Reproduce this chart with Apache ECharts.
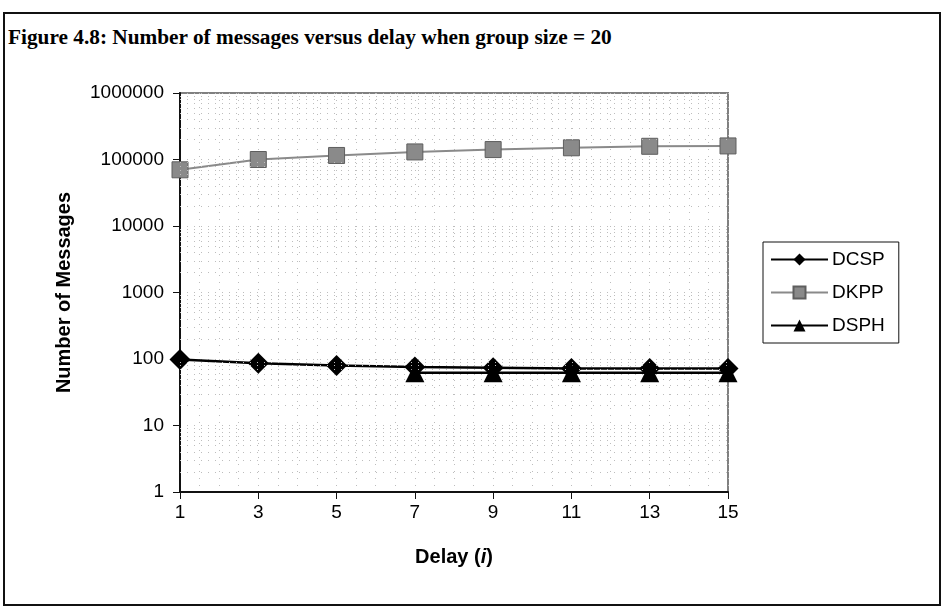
<!DOCTYPE html>
<html>
<head>
<meta charset="utf-8">
<script src="https://cdn.jsdelivr.net/npm/echarts@6/dist/echarts.min.js"></script>
<style>
  html, body { margin: 0; padding: 0; background: #fff; }
  #wrap { position: relative; width: 944px; height: 615px; }
  #frame { position: absolute; left: 3px; top: 12px; width: 934px; height: 590px; border: 2px solid #111; }
  #title { position: absolute; left: 8px; top: 25px; font-family: "Liberation Serif", serif; font-weight: bold; font-size: 21.3px; color: #000; white-space: nowrap; }
  #chart { position: absolute; left: 0; top: 0; width: 944px; height: 615px; }
</style>
</head>
<body>
<div id="wrap">
  <div id="frame"></div>
  <div id="title">Figure 4.8: Number of messages versus delay when group size = 20</div>
  <div id="chart"></div>
</div>
<script>
// Delay values (i) on the x axis
const delays = [1, 3, 5, 7, 9, 11, 13, 15];
// Number of messages per protocol
const dcsp = [98, 86, 80, 76, 74, 72, 72, 72];
const dkpp = [70000, 100000, 115000, 130000, 141000, 150000, 158000, 160000];
const dsph = [null, null, null, 62, 62, 62, 62, 62];
// Decade labels of the log axis
const yTickLabels = ['1', '10', '100', '1000', '10000', '100000', '1000000'];

const font = '"Liberation Sans", Arial, sans-serif';

// dotted minor grid lines at 2..9 within each decade
const minorLevels = [];
for (let d = 0; d < 6; d++) {
  for (let m = 2; m <= 9; m++) minorLevels.push({ yAxis: m * Math.pow(10, d) });
}

const pairs = arr => delays.map((x, i) => [x, arr[i]]);

const gridDot = { color: '#bdbdbd', type: [1, 6], width: 1 };

const chart = echarts.init(document.getElementById('chart'), null, { renderer: 'canvas' });
chart.setOption({
  animation: false,
  textStyle: { fontFamily: font },
  grid: {
    left: 180, right: 216, top: 93, bottom: 123,
    show: true, borderColor: '#808080', borderWidth: 2, backgroundColor: 'transparent'
  },
  legend: {
    orient: 'vertical',
    left: 763, top: 242,
    padding: [8, 14, 8, 7],
    borderColor: '#111', borderWidth: 1,
    itemWidth: 57, itemHeight: 15, itemGap: 14,
    textStyle: { fontFamily: font, fontSize: 19, color: '#000', padding: [0, 0, 0, -1] },
    data: ['DCSP', 'DKPP', 'DSPH']
  },
  xAxis: {
    type: 'value',
    min: 1, max: 15, interval: 2,
    name: '{b|Delay (}{i|i}{b|)}',
    nameLocation: 'middle',
    nameGap: 55,
    nameTextStyle: {
      rich: {
        b: { fontFamily: font, fontWeight: 'bold', fontSize: 20, color: '#000' },
        i: { fontFamily: font, fontWeight: 'bold', fontStyle: 'italic', fontSize: 20, color: '#000' }
      }
    },
    axisLine: { show: true, onZero: false, lineStyle: { color: '#111', width: 2 } },
    axisTick: { show: true, length: 7, lineStyle: { color: '#111', width: 1 } },
    axisLabel: { fontFamily: font, fontSize: 19, color: '#000', margin: 11 },
    splitLine: { show: true, lineStyle: gridDot },
    minorTick: { show: false, splitNumber: 4 },
    minorSplitLine: { show: true, lineStyle: gridDot }
  },
  yAxis: {
    type: 'log',
    logBase: 10,
    min: 1, max: 1000000,
    name: 'Number of Messages',
    nameLocation: 'middle',
    nameGap: 106,
    nameTextStyle: { fontFamily: font, fontWeight: 'bold', fontSize: 20, color: '#000' },
    axisLine: { show: true, lineStyle: { color: '#111', width: 2 } },
    axisTick: { show: true, length: 7, lineStyle: { color: '#111', width: 1 } },
    axisLabel: {
      fontFamily: font, fontSize: 19, color: '#000', margin: 16,
      formatter: v => yTickLabels[Math.round(Math.log10(v))]
    },
    splitLine: { show: true, lineStyle: gridDot }
  },
  series: [
    {
      name: 'DCSP', type: 'line',
      data: pairs(dcsp),
      symbol: 'diamond', symbolSize: 21,
      itemStyle: { color: '#000' },
      lineStyle: { color: '#000', width: 2.5 },
      z: 4
    },
    {
      name: 'DKPP', type: 'line',
      data: pairs(dkpp),
      symbol: 'rect', symbolSize: 16,
      itemStyle: { color: '#8a8a8a', borderColor: '#5e5e5e', borderWidth: 1 },
      lineStyle: { color: '#8a8a8a', width: 2 },
      z: 3,
      markLine: {
        silent: true, symbol: 'none', animation: false,
        label: { show: false },
        lineStyle: gridDot,
        emphasis: { disabled: true },
        data: minorLevels
      }
    },
    {
      name: 'DSPH', type: 'line',
      data: pairs(dsph),
      symbol: 'triangle', symbolSize: 19,
      itemStyle: { color: '#000' },
      lineStyle: { color: '#000', width: 2.5 },
      z: 5
    }
  ]
});
</script>
</body>
</html>
